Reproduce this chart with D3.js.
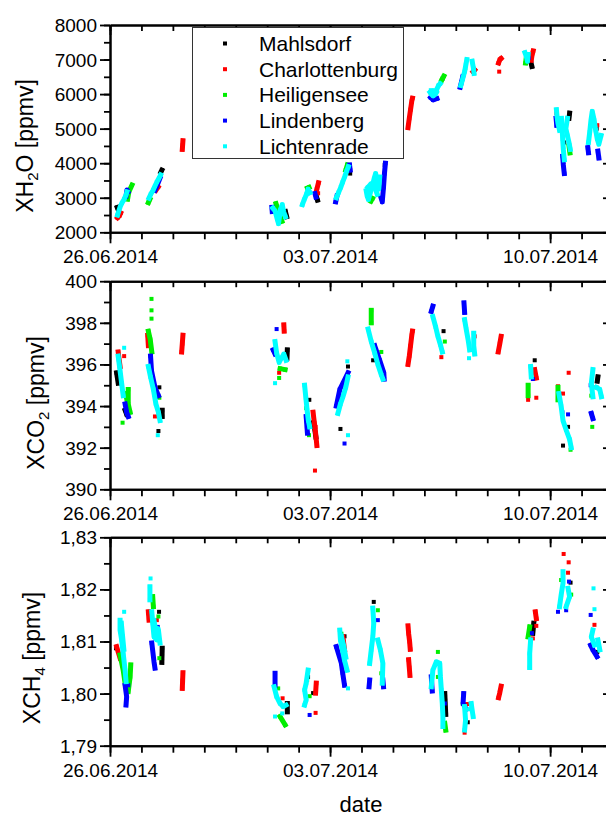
<!DOCTYPE html>
<html>
<head>
<meta charset="utf-8">
<script src="https://cdn.jsdelivr.net/npm/d3@7"></script>
<style>
  body { margin: 0; background: #fff; }
  text { font-family: "Liberation Sans", Arial, sans-serif; fill: #000; }
</style>
</head>
<body>
<script>
// stations, colours, x axis
const stations = ["Mahlsdorf", "Charlottenburg", "Heiligensee", "Lindenberg", "Lichtenrade"];
const colors = ["#000000", "#ff0000", "#00ee00", "#0000ff", "#00ffff"];
const xMajor = [0, 7, 14];                       // days since 26.06.2014
const xTickLabels = ["26.06.2014", "03.07.2014", "10.07.2014"];
const xMinor = d3.range(0, 17);

// each series: list of runs of [day since 26.06.2014, value]
const h2oMahlsdorf = [
  [[0.23,2720],[0.26,2650]], [[1.62,3745],[1.65,3800]], [[5.58,2600],[5.62,2450]],
  [[6.56,3050],[6.60,2930]], [[7.64,3700]], [[8.74,3950]], [[10.58,6450]],
  [[13.38,6950],[13.42,6800]], [[14.60,5300],[14.62,5450]], [[14.45,4600]], [[15.48,5000]]
];
const h2oCharlottenburg = [
  [[0.24,2420],[0.30,2480],[0.34,2560]], [[1.46,3220],[1.53,3310]],
  [[2.30,4400],[2.31,4520],[2.32,4650]], [[6.58,3250],[6.63,3430]], [[6.62,3130]],
  [[9.48,5030],[9.52,5300],[9.56,5550],[9.60,5800],[9.62,5880]], [[11.55,6650],[11.60,6700]],
  [[12.36,6900],[12.40,7000],[12.44,7030]], [[12.38,6650]],
  [[13.40,6980],[13.42,7100],[13.46,7250]], [[14.20,5450]], [[15.50,5100]]
];
const h2oHeiligensee = [
  [[0.56,2960],[0.60,3170],[0.67,3310],[0.70,3370]], [[1.22,2860],[1.27,2960]],
  [[5.28,2830],[5.38,2550],[5.47,2320]], [[6.28,3280],[6.33,3300]], [[7.50,3800],[7.55,3950]],
  [[8.30,2900],[8.35,2980]], [[10.55,6400],[10.62,6520]], [[11.30,6750]],
  [[13.22,6900],[13.24,7050]], [[14.60,4500],[14.63,4300]]
];
const h2oLindenberg = [
  [[0.51,3050],[0.54,3225],[0.57,3170]], [[1.43,3220],[1.49,3340],[1.59,3570]],
  [[5.15,2720],[5.16,2600]], [[6.52,3120],[6.55,3020]], [[7.18,2880],[7.22,3050]],
  [[7.62,3950],[7.64,3800]], [[8.62,3000],[8.66,2880],[8.70,3300],[8.73,3700],[8.76,4000]],
  [[10.20,5900],[10.28,5830],[10.40,5870]], [[11.14,6200],[11.18,6350],[11.22,6500]],
  [[13.32,7050]], [[14.19,5300],[14.21,5100]], [[14.40,4200],[14.42,3950],[14.45,3700]],
  [[15.20,4450],[15.22,4300]], [[15.52,4350],[15.55,4150]]
];
const h2oLichtenrade = [
  [[0.24,2500],[0.32,2730],[0.38,2850],[0.45,2960],[0.51,3080],[0.54,3170]],
  [[1.24,2990],[1.30,3110],[1.37,3220],[1.43,3340],[1.49,3455],[1.56,3570],[1.61,3660]],
  [[5.18,2700],[5.25,2620],[5.32,2380],[5.36,2250],[5.42,2650],[5.48,2800],[5.52,2600],[5.58,2450]],
  [[6.12,2800],[6.18,2950],[6.25,3100],[6.30,3250],[6.36,3150]],
  [[7.20,3000],[7.27,3150],[7.34,3300],[7.40,3450],[7.47,3620],[7.53,3780],[7.58,3900]],
  [[8.15,3200],[8.18,3050],[8.22,2950],[8.28,3150],[8.35,3350],[8.40,3550],[8.45,3700],[8.50,3450],[8.55,3250],[8.58,3600]],
  [[8.20,3300],[8.30,3400],[8.42,3300],[8.50,3100]],
  [[10.18,6050],[10.22,6000],[10.28,5950],[10.35,6000],[10.40,6150],[10.45,6250],[10.50,6300]],
  [[10.22,6100],[10.30,6100],[10.38,6050]],
  [[11.16,6250],[11.22,6450],[11.28,6650],[11.32,6850],[11.35,7000]], [[11.52,6950],[11.56,6750],[11.58,6600]],
  [[13.20,7200],[13.24,7100],[13.28,6950],[13.30,7150]],
  [[14.20,5550],[14.22,5350],[14.25,5150],[14.30,4950]],
  [[14.36,5300],[14.38,5000],[14.40,4700],[14.42,4400],[14.45,4100]],
  [[14.55,5300],[14.50,5000],[14.55,4800],[14.60,4600],[14.64,4400]],
  [[15.22,4600],[15.26,4900],[15.30,5250],[15.34,5500],[15.40,5250],[15.45,4950],[15.50,4700],[15.55,4550],[15.62,4800]]
];

const co2Mahlsdorf = [
  [[0.21,395.6],[0.26,395.1]], [[0.48,393.8],[0.53,393.6]], [[1.57,394.9]], [[1.66,393.8],[1.66,393.5]],
  [[1.54,392.8]], [[5.64,396.7],[5.63,396.3]], [[6.34,394.3]], [[6.48,393.2],[6.55,392.5]],
  [[7.33,392.9]], [[7.57,395.9]], [[8.37,396.2]], [[10.61,397.6]], [[13.51,396.2]],
  [[14.41,392.1]], [[14.57,393.0]], [[15.52,395.4],[15.50,395.2]]
];
const co2Charlottenburg = [
  [[0.26,396.6],[0.32,395.9]], [[0.45,396.4]], [[1.20,397.4],[1.22,396.9]], [[1.43,393.5]],
  [[2.28,396.6],[2.30,397.0],[2.32,397.4]], [[5.53,397.9],[5.54,397.6]], [[5.38,395.6]],
  [[6.46,393.7],[6.50,393.2],[6.54,392.7],[6.58,392.1]], [[6.52,390.9]], [[6.54,393.0]],
  [[7.53,395.4]], [[9.48,396.0],[9.52,396.4],[9.56,396.9],[9.60,397.4],[9.62,397.6]],
  [[10.54,396.35]], [[11.60,397.35]], [[12.35,396.6],[12.40,397.0],[12.44,397.35]],
  [[13.51,395.75],[13.56,395.35]], [[13.30,394.3]], [[13.56,394.4]],
  [[14.25,394.95]], [[14.41,394.6]], [[14.59,395.6]], [[15.47,394.9]]
];
const co2Heiligensee = [
  [[0.40,393.2]], [[0.50,394.6],[0.55,394.2]], [[0.58,394.8],[0.58,394.1],[0.64,393.7]],
  [[1.32,399.15]], [[1.32,398.6]], [[1.32,398.2]], [[1.22,397.6],[1.28,397.2],[1.33,396.6]],
  [[1.57,394.4]], [[5.41,395.8],[5.57,395.75]], [[5.38,395.35]], [[6.24,393.9]], [[6.33,392.6]],
  [[8.31,398.6],[8.31,398.0]], [[8.63,396.6]], [[10.65,397.1]], [[13.30,395.0],[13.30,394.5]],
  [[14.25,394.9],[14.25,394.3]], [[14.65,391.9]], [[15.34,393.0]], [[15.31,394.5]]
];
const co2Lindenberg = [
  [[0.48,394.1],[0.53,393.7],[0.58,393.5]], [[1.29,396.4],[1.32,395.7],[1.43,394.9],[1.54,394.5]],
  [[5.30,397.7]], [[5.19,396.7],[5.25,396.5]], [[6.24,393.5],[6.28,392.7]],
  [[7.20,394.0],[7.31,394.8],[7.41,395.1],[7.57,395.6]], [[7.46,392.2]],
  [[8.42,396.9],[8.58,396.2],[8.71,395.6],[8.72,395.3]], [[10.22,398.55],[10.27,398.8]],
  [[11.26,398.96],[11.28,398.5]], [[13.45,395.3]], [[14.39,393.7]], [[14.57,393.6]],
  [[15.29,395.0]], [[15.31,393.65],[15.36,393.4]]
];
const co2Lichtenrade = [
  [[0.26,396.4],[0.32,395.7],[0.37,395.1],[0.42,394.5]], [[0.45,396.8]],
  [[1.22,395.9],[1.29,395.4],[1.38,394.8],[1.46,394.1],[1.54,393.7],[1.59,393.3]], [[1.52,392.6]],
  [[5.25,397.1],[5.30,396.55],[5.38,396.1],[5.45,396.3],[5.53,396.5],[5.60,396.2]], [[5.25,395.1]],
  [[6.19,395.0],[6.23,394.4],[6.27,393.8],[6.31,393.3],[6.35,393.0]],
  [[7.25,393.65],[7.33,394.1],[7.41,394.45],[7.50,394.9],[7.57,395.4]], [[7.55,396.15]], [[7.57,392.6]],
  [[8.21,397.7],[8.31,397.1],[8.42,396.55],[8.52,396.0],[8.63,395.5],[8.68,395.3]],
  [[10.27,398.3],[10.36,397.8],[10.43,397.35],[10.51,396.95],[10.57,396.6]],
  [[11.28,398.15],[11.33,397.7],[11.39,397.2],[11.44,396.7]], [[11.57,397.5],[11.57,396.9],[11.60,396.5]],
  [[11.42,396.3]], [[13.38,395.9],[13.40,395.4]],
  [[14.28,394.6],[14.35,394.0],[14.41,393.3],[14.51,392.85],[14.62,392.4],[14.67,392.0]],
  [[15.36,395.75],[15.31,395.1],[15.36,394.45]], [[15.47,394.9],[15.58,394.8],[15.63,394.45]]
];

const ch4Mahlsdorf = [
  [[0.19,1.8087]], [[0.51,1.8008]], [[1.56,1.8157]], [[1.66,1.8087],[1.65,1.8060]],
  [[5.64,1.7981],[5.64,1.7965]], [[6.30,1.8032]], [[6.46,1.8001]], [[7.46,1.8110]],
  [[8.39,1.8176]], [[10.65,1.8000],[10.68,1.7960]], [[11.38,1.7945]],
  [[13.48,1.8135],[13.45,1.8116]], [[14.65,1.8213]], [[15.50,1.8080]]
];
const ch4Charlottenburg = [
  [[0.21,1.8090],[0.32,1.8068]], [[1.22,1.8157],[1.24,1.8141]], [[1.49,1.8141]],
  [[2.30,1.8010],[2.31,1.8025],[2.32,1.8040]], [[5.49,1.7991]],
  [[6.56,1.8020],[6.54,1.8001]], [[6.54,1.7963]], [[7.41,1.8109],[7.46,1.8084]],
  [[9.48,1.8130],[9.50,1.8115],[9.53,1.8100],[9.55,1.8085]], [[9.50,1.8065],[9.52,1.8050],[9.54,1.8035]],
  [[11.28,1.7925]], [[11.36,1.7980]], [[12.36,1.7992],[12.40,1.8002],[12.44,1.8014]],
  [[13.53,1.8157],[13.56,1.8144]], [[13.45,1.8106]], [[13.56,1.8130]],
  [[14.43,1.8268]], [[14.59,1.8252]], [[14.57,1.8232]], [[15.41,1.8132]]
];
const ch4Heiligensee = [
  [[0.32,1.8074],[0.42,1.8045],[0.48,1.8020]], [[0.66,1.8055],[0.64,1.8032],[0.58,1.8004]],
  [[1.36,1.8186],[1.38,1.8167]], [[1.54,1.8148]], [[1.57,1.8068]], [[5.35,1.8010]],
  [[5.41,1.7956],[5.57,1.7940]], [[6.27,1.8026]], [[6.35,1.7995]], [[7.36,1.8115]],
  [[8.52,1.8160]], [[8.63,1.8039]], [[10.43,1.8080]], [[10.43,1.8032]],
  [[10.65,1.7943],[10.68,1.7930]], [[11.22,1.7980]], [[13.35,1.8128],[13.30,1.8109]],
  [[14.35,1.8218]], [[14.67,1.8190]]
];
const ch4Lindenberg = [
  [[0.48,1.8016],[0.53,1.7994],[0.51,1.7978]], [[0.58,1.8016]],
  [[1.33,1.8097],[1.40,1.8061],[1.43,1.8049]], [[1.52,1.8128]], [[5.25,1.8039],[5.25,1.8016]],
  [[6.35,1.7959]], [[7.20,1.8090],[7.36,1.8058],[7.40,1.8040],[7.46,1.8016]],
  [[8.26,1.8026],[8.24,1.8013]], [[8.52,1.8141]], [[8.68,1.8026],[8.70,1.8013]],
  [[10.22,1.8032],[10.25,1.8005]], [[10.65,1.7981]], [[11.25,1.8000],[11.23,1.7981],[11.33,1.7970]],
  [[13.42,1.8116]], [[14.25,1.8157]], [[14.60,1.8215]], [[14.51,1.8160]],
  [[15.29,1.8151]], [[15.29,1.8093],[15.36,1.8084],[15.49,1.8071]]
];
const ch4Lichtenrade = [
  [[0.45,1.8157]], [[0.32,1.8141],[0.32,1.8122],[0.37,1.8103],[0.42,1.8077],[0.48,1.8045],[0.51,1.8023]],
  [[0.36,1.8135],[0.40,1.8110],[0.44,1.8085]],
  [[1.29,1.8221]], [[1.27,1.8205],[1.27,1.8180]],
  [[1.33,1.8157],[1.36,1.8135],[1.40,1.8109],[1.49,1.8103],[1.54,1.8122],[1.59,1.8097]],
  [[1.40,1.8140],[1.46,1.8120],[1.50,1.8125]],
  [[5.22,1.8013],[5.30,1.7994],[5.41,1.7981],[5.51,1.7975],[5.60,1.7978]], [[5.25,1.7956]], [[5.48,1.7962]],
  [[6.30,1.8045],[6.24,1.8020],[6.19,1.8007],[6.24,1.7988],[6.19,1.7978]],
  [[7.31,1.8122],[7.33,1.8103],[7.39,1.8084],[7.46,1.8064],[7.54,1.8045]], [[7.57,1.8010]],
  [[7.36,1.8110],[7.44,1.8090],[7.50,1.8070]],
  [[8.36,1.8164],[8.39,1.8135],[8.36,1.8109],[8.31,1.8084],[8.26,1.8058]],
  [[8.52,1.8103],[8.60,1.8084],[8.68,1.8058],[8.66,1.8020]],
  [[10.22,1.8013],[10.27,1.8045],[10.38,1.8061],[10.49,1.8058],[10.51,1.8032],[10.54,1.8007],[10.57,1.7981],[10.59,1.7956],[10.59,1.7937]],
  [[11.28,1.7975],[11.31,1.7949],[11.28,1.7930]], [[11.49,1.7981],[11.55,1.7956]], [[11.42,1.7970]],
  [[13.38,1.8103],[13.35,1.8077],[13.35,1.8050]],
  [[14.41,1.8234],[14.41,1.8212],[14.35,1.8189],[14.30,1.8167]], [[14.57,1.8202],[14.62,1.8186],[14.51,1.8167]],
  [[15.38,1.8202]], [[15.41,1.8162]], [[15.36,1.8122],[15.31,1.8109],[15.41,1.8093]], [[15.52,1.8103],[15.58,1.8084]]
];

const comma = d3.formatLocale({decimal: ",", thousands: ".", grouping: [3], currency: ["", ""]});

const panels = [
  { top: 25, bottom: 232.3, domain: [2000, 8000], major: 1000, minor: 500, fmt: d3.format("d"),
    title: ["XH", "2", "O [ppmv]"], tx: 33, ty: 146,
    series: [h2oMahlsdorf, h2oCharlottenburg, h2oHeiligensee, h2oLindenberg, h2oLichtenrade] },
  { top: 281.2, bottom: 489.3, domain: [390, 400], major: 2, minor: 1, fmt: d3.format("d"),
    title: ["XCO", "2", " [ppmv]"], tx: 44, ty: 403,
    series: [co2Mahlsdorf, co2Charlottenburg, co2Heiligensee, co2Lindenberg, co2Lichtenrade] },
  { top: 537.3, bottom: 745.7, domain: [1.79, 1.83], major: 0.01, minor: 0.005, fmt: comma.format(".2f"),
    title: ["XCH", "4", " [ppmv]"], tx: 40, ty: 658,
    series: [ch4Mahlsdorf, ch4Charlottenburg, ch4Heiligensee, ch4Lindenberg, ch4Lichtenrade] }
];

const W = 606, H = 816;
const svg = d3.select("body").append("svg").attr("width", W).attr("height", H);
const x = d3.scaleLinear().domain([0, 16]).range([110, 613]);

function ticks(lo, hi, step) {
  const n = Math.round((hi - lo) / step);
  return d3.range(n + 1).map(i => +(lo + i * step).toFixed(4));
}

function drawAxes(p, y) {
  const g = svg.append("g").attr("class", "axes");
  const yMajor = ticks(p.domain[0], p.domain[1], p.major);
  const yMinor = ticks(p.domain[0], p.domain[1], p.minor);
  const defs = [
    [d3.axisBottom(x).tickValues(xMinor).tickSize(7).tickFormat(""), 0, p.bottom],
    [d3.axisBottom(x).tickValues(xMajor).tickSize(11).tickFormat(d => xTickLabels[xMajor.indexOf(d)]), 0, p.bottom],
    [d3.axisTop(x).tickValues(xMinor).tickSize(-6).tickFormat(""), 0, p.top],
    [d3.axisTop(x).tickValues(xMajor).tickSize(-10).tickFormat(""), 0, p.top],
    [d3.axisLeft(y).tickValues(yMinor).tickSize(6).tickFormat(""), 110, 0],
    [d3.axisLeft(y).tickValues(yMajor).tickSize(10).tickFormat(p.fmt), 110, 0],
    [d3.axisRight(y).tickValues(yMinor).tickSize(-6).tickFormat(""), 613, 0],
    [d3.axisRight(y).tickValues(yMajor).tickSize(-10).tickFormat(""), 613, 0]
  ];
  defs.forEach(([ax, tx, ty], i) => {
    const a = g.append("g").attr("transform", `translate(${tx},${ty})`)
      .call(ax.tickSizeOuter(0));
    a.select(".domain").attr("stroke-width", 2);
    a.selectAll(".tick line").attr("stroke-width", 1.8);
    a.selectAll("text").attr("font-family", null).attr("font-size", 19).attr("fill", "#000");
    if (i === 1) a.selectAll("text").attr("y", 31).attr("dy", null);
    if (i === 5) a.selectAll("text").attr("x", -13).attr("dy", "0.34em");
  });
}

panels.forEach(p => {
  const y = d3.scaleLinear().domain(p.domain).range([p.bottom, p.top]);
  const line = d3.line().x(d => x(d[0])).y(d => y(d[1]));
  p.series.forEach((runs, si) => {
    const g = svg.append("g").attr("class", "series");
    g.selectAll("path").data(runs.filter(r => r.length > 1)).join("path")
      .attr("d", line).attr("fill", "none").attr("stroke", colors[si])
      .attr("stroke-width", 5).attr("stroke-linejoin", "round").attr("stroke-linecap", "square");
    g.selectAll("rect").data(runs.flat()).join("rect")
      .attr("x", d => x(d[0]) - 2).attr("y", d => y(d[1]) - 2)
      .attr("width", 4).attr("height", 4).attr("fill", colors[si]);
  });
  drawAxes(p, y);

  const t = svg.append("text").attr("font-size", 23).attr("text-anchor", "middle")
    .attr("transform", `translate(${p.tx},${p.ty}) rotate(-90)`);
  t.append("tspan").text(p.title[0]);
  t.append("tspan").attr("font-size", 15).attr("dy", 5).text(p.title[1]);
  t.append("tspan").attr("dy", -5).text(p.title[2]);
});

svg.append("text").attr("x", 361).attr("y", 812).attr("text-anchor", "middle")
  .attr("font-size", 22).text("date");

// legend
const lg = svg.append("g").attr("class", "legend");
lg.append("rect").attr("x", 192.5).attr("y", 27.5).attr("width", 211).attr("height", 131)
  .attr("fill", "#fff").attr("stroke", "#333").attr("stroke-width", 1);
stations.forEach((s, i) => {
  const cy = 43.5 + i * 25.7;
  lg.append("rect").attr("x", 223).attr("y", cy - 2).attr("width", 4).attr("height", 4).attr("fill", colors[i]);
  lg.append("text").attr("x", 259).attr("y", cy + 7.5).attr("font-size", 21).text(s);
});
</script>
</body>
</html>
